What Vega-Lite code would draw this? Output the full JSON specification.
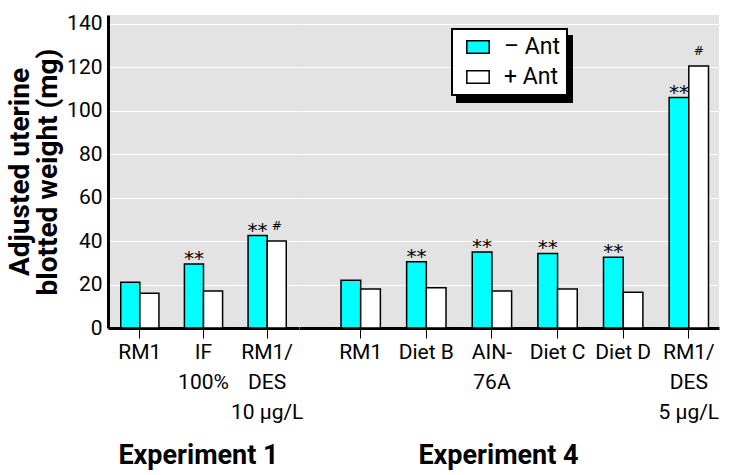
{
  "$schema": "https://vega.github.io/schema/vega-lite/v6.json",
  "background": "white",
  "padding": {"left": 6, "top": 12, "right": 13, "bottom": 5},
  "bounds": "flush",
  "config": {
    "font": "Roboto",
    "view": {"fill": "#e3e3e3", "stroke": null},
    "concat": {"spacing": 0},
    "legend": {"strokeWidth": 2},
    "axis": {"labelFontSize": 21, "labelColor": "black", "titleColor": "black", "labelFont": "Roboto", "titleFont": "Roboto"}
  },
  "data": {
    "values": [
      {"exp": "Experiment 1", "cat": "RM1", "ant": "– Ant", "value": 21, "sig": ""},
      {"exp": "Experiment 1", "cat": "RM1", "ant": "+ Ant", "value": 16, "sig": ""},
      {"exp": "Experiment 1", "cat": "IF|100%", "ant": "– Ant", "value": 29.5, "sig": "**"},
      {"exp": "Experiment 1", "cat": "IF|100%", "ant": "+ Ant", "value": 17, "sig": ""},
      {"exp": "Experiment 1", "cat": "RM1/|DES|10 µg/L", "ant": "– Ant", "value": 42.5, "sig": "**"},
      {"exp": "Experiment 1", "cat": "RM1/|DES|10 µg/L", "ant": "+ Ant", "value": 40, "sig": "#"},
      {"exp": "Experiment 4", "cat": "RM1", "ant": "– Ant", "value": 22, "sig": ""},
      {"exp": "Experiment 4", "cat": "RM1", "ant": "+ Ant", "value": 18, "sig": ""},
      {"exp": "Experiment 4", "cat": "Diet B", "ant": "– Ant", "value": 30.5, "sig": "**"},
      {"exp": "Experiment 4", "cat": "Diet B", "ant": "+ Ant", "value": 18.5, "sig": ""},
      {"exp": "Experiment 4", "cat": "AIN-|76A", "ant": "– Ant", "value": 35, "sig": "**"},
      {"exp": "Experiment 4", "cat": "AIN-|76A", "ant": "+ Ant", "value": 17, "sig": ""},
      {"exp": "Experiment 4", "cat": "Diet C", "ant": "– Ant", "value": 34.3, "sig": "**"},
      {"exp": "Experiment 4", "cat": "Diet C", "ant": "+ Ant", "value": 18, "sig": ""},
      {"exp": "Experiment 4", "cat": "Diet D", "ant": "– Ant", "value": 32.5, "sig": "**"},
      {"exp": "Experiment 4", "cat": "Diet D", "ant": "+ Ant", "value": 16.5, "sig": ""},
      {"exp": "Experiment 4", "cat": "RM1/|DES|5 µg/L", "ant": "– Ant", "value": 106, "sig": "**"},
      {"exp": "Experiment 4", "cat": "RM1/|DES|5 µg/L", "ant": "+ Ant", "value": 120.5, "sig": "#"}
    ]
  },
  "hconcat": [
    {
      "width": 191,
      "height": 313,
      "transform": [{"filter": "datum.exp === 'Experiment 1'"}],
      "encoding": {
        "x": {
          "field": "cat", "type": "nominal",
          "sort": ["RM1", "IF|100%", "RM1/|DES|10 µg/L"],
          "scale": {"paddingInner": 0.4, "paddingOuter": 0.2},
          "axis": {
            "title": "Experiment 1", "titleFontSize": 27, "titleFontWeight": "bold",
            "titleX": 90, "titleY": 135, "titleBaseline": "alphabetic",
            "labelExpr": "split(datum.label, '|')", "labelAngle": 0, "labelLineHeight": 30,
            "labelPadding": 3, "labelBaseline": "top",
            "domainColor": "black", "domainWidth": 3, "tickColor": "black", "tickWidth": 1, "tickSize": 10
          }
        },
        "xOffset": {"field": "ant", "type": "nominal", "scale": {"domain": ["– Ant", "+ Ant"], "paddingInner": 0, "paddingOuter": 0}},
        "y": {
          "field": "value", "type": "quantitative",
          "scale": {"domain": [0, 144], "nice": false},
          "axis": {
            "values": [0, 20, 40, 60, 80, 100, 120, 140],
            "title": ["Adjusted uterine", "blotted weight (mg)"],
            "titleFontSize": 28, "titleFontWeight": "bold", "titleLineHeight": 28,
            "titleX": -88, "titleBaseline": "middle", "titleAngle": -90, "titleAlign": "center",
            "ticks": false, "labelPadding": 6,
            "domainColor": "black", "domainWidth": 3,
            "grid": true, "gridColor": "white", "gridWidth": 1.2
          }
        }
      },
      "layer": [
        {
          "mark": {"type": "bar", "stroke": "black", "strokeWidth": 1.5},
          "encoding": {
            "color": {
              "field": "ant", "type": "nominal",
              "scale": {"domain": ["– Ant", "+ Ant"], "range": ["#00FFFF", "#FFFFFF"]},
              "legend": {
                "orient": "none", "legendX": 344, "legendY": 14, "title": null, "zindex": 2,
                "fillColor": "white", "strokeColor": "black", "padding": 6,
                "labelFontSize": 23, "labelFont": "Roboto", "labelColor": "black",
                "symbolType": "M-1,-0.55H1V0.55H-1Z", "symbolSize": 500, "symbolStrokeColor": "black", "symbolStrokeWidth": 1.5,
                "symbolOpacity": 1, "symbolOffset": 8, "rowPadding": 6, "labelOffset": 14
              }
            },
            "strokeDash": {
              "field": "ant", "type": "nominal",
              "scale": {"domain": ["+ Ant", "– Ant"], "range": [[1, 0], [1, 0]]},
              "legend": {
                "orient": "none", "legendX": 349, "legendY": 21, "title": null, "zindex": 1,
                "fillColor": "black", "strokeColor": "black", "padding": 6,
                "labelFontSize": 23, "labelFont": "Roboto", "labelColor": "black",
                "labelExpr": "'\u00a0'",
                "symbolType": "M-1,-0.55H1V0.55H-1Z", "symbolSize": 500, "symbolStrokeColor": "black", "symbolFillColor": "black", "symbolStrokeWidth": 1.5,
                "symbolOpacity": 1, "symbolOffset": 8, "rowPadding": 6, "labelOffset": 71
              }
            }
          }
        },
        {
          "transform": [{"filter": "datum.sig === '**'"}],
          "mark": {"type": "text", "font": "DejaVu Sans", "fontSize": 20, "baseline": "alphabetic", "dy": 1, "color": "black"},
          "encoding": {"text": {"field": "sig"}}
        },
        {
          "transform": [{"filter": "datum.sig === '#'"}],
          "mark": {"type": "text", "font": "DejaVu Sans", "fontSize": 12, "fontStyle": "italic", "baseline": "alphabetic", "dy": -11, "color": "black"},
          "encoding": {"text": {"field": "sig"}}
        }
      ]
    },
    {
      "width": 420,
      "height": 313,
      "transform": [{"filter": "datum.exp === 'Experiment 4'"}],
      "encoding": {
        "x": {
          "field": "cat", "type": "nominal",
          "sort": ["RM1", "Diet B", "AIN-|76A", "Diet C", "Diet D", "RM1/|DES|5 µg/L"],
          "scale": {"paddingInner": 0.4, "paddingOuter": 0.4, "align": 0.8},
          "axis": {
            "title": "Experiment 4", "titleFontSize": 27, "titleFontWeight": "bold",
            "titleX": 199, "titleY": 135, "titleBaseline": "alphabetic",
            "labelExpr": "split(datum.label, '|')", "labelAngle": 0, "labelLineHeight": 30,
            "labelPadding": 3, "labelBaseline": "top",
            "domainColor": "black", "domainWidth": 3, "tickColor": "black", "tickWidth": 1, "tickSize": 10
          }
        },
        "xOffset": {"field": "ant", "type": "nominal", "scale": {"domain": ["– Ant", "+ Ant"], "paddingInner": 0, "paddingOuter": 0}},
        "y": {
          "field": "value", "type": "quantitative",
          "scale": {"domain": [0, 144], "nice": false},
          "axis": {
            "values": [0, 20, 40, 60, 80, 100, 120, 140],
            "title": null, "labels": false, "ticks": false, "domain": false,
            "grid": true, "gridColor": "white", "gridWidth": 1.2
          }
        }
      },
      "layer": [
        {
          "mark": {"type": "bar", "stroke": "black", "strokeWidth": 1.5},
          "encoding": {
            "color": {"field": "ant", "type": "nominal", "scale": {"domain": ["– Ant", "+ Ant"], "range": ["#00FFFF", "#FFFFFF"]}},
            "strokeDash": {"field": "ant", "type": "nominal", "scale": {"domain": ["+ Ant", "– Ant"], "range": [[1, 0], [1, 0]]}}
          }
        },
        {
          "transform": [{"filter": "datum.sig === '**'"}],
          "mark": {"type": "text", "font": "DejaVu Sans", "fontSize": 20, "baseline": "alphabetic", "dy": 1, "color": "black"},
          "encoding": {"text": {"field": "sig"}}
        },
        {
          "transform": [{"filter": "datum.sig === '#'"}],
          "mark": {"type": "text", "font": "DejaVu Sans", "fontSize": 12, "fontStyle": "italic", "baseline": "alphabetic", "dy": -11, "color": "black"},
          "encoding": {"text": {"field": "sig"}}
        }
      ]
    }
  ],
  "resolve": {
    "scale": {"x": "independent", "y": "independent", "xOffset": "independent", "color": "shared", "strokeDash": "shared"},
    "axis": {"x": "independent", "y": "independent"}
  }
}
